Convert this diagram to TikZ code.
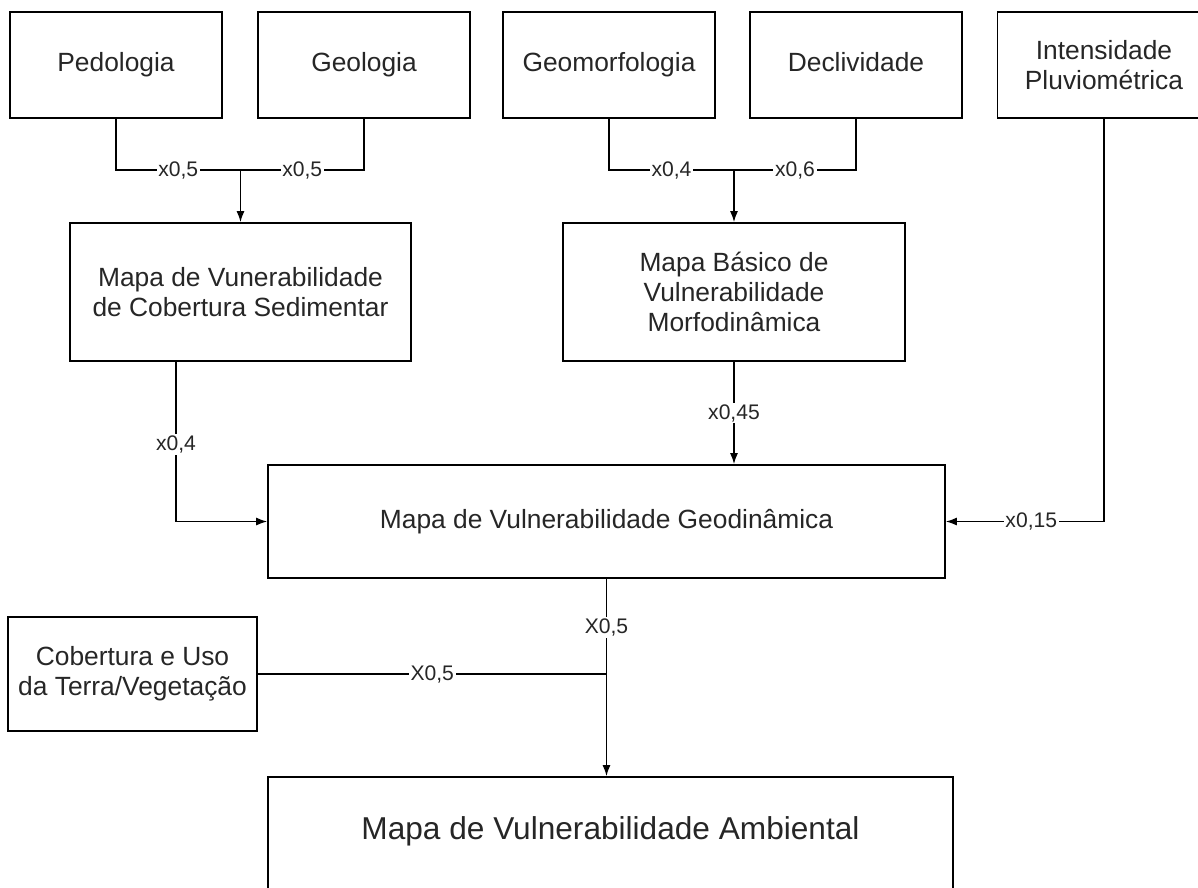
\documentclass[tikz,border=0pt]{standalone}
\usepackage{fontspec}
\setmainfont{Liberation Sans}
\usetikzlibrary{arrows.meta, positioning}

\begin{document}
\begin{tikzpicture}[x=0.02cm, y=-0.02cm,
    box/.style={rectangle, draw, line width=1.1pt, align=center, inner sep=0pt,
        font=\fontsize{15}{17}\selectfont, text=black!85},
    oneline/.style={box, text height=0.95em, text depth=0.2em},
    wt/.style={fill=white, inner sep=1pt, font=\fontsize{12}{14}\selectfont, text=black!85},
    link/.style={line width=0.7pt},
    arr/.style={link, -{Latex[length=2.2mm, width=1.6mm]}}]
    \useasboundingbox (0,0) rectangle (1198,887);
    \clip (0,0) rectangle (1198,887);

    \node (pedo) [oneline, minimum width=4.24cm, minimum height=2.12cm] at (116,65) {Pedologia};
    \node (geo) [oneline, minimum width=4.24cm, minimum height=2.12cm] at (364,65) {Geologia};
    \node (geomorf) [oneline, minimum width=4.24cm, minimum height=2.12cm] at (609,65) {Geomorfologia};
    \node (decliv) [oneline, minimum width=4.24cm, minimum height=2.12cm] at (856,65) {Declividade};
    \node (pluv) [box, minimum width=4.26cm, minimum height=2.12cm] at (1104,65) {Intensidade\\Pluviométrica};

    \node (sed) [box, minimum width=6.82cm, minimum height=2.76cm] at (240.5,292) {Mapa de Vunerabilidade\\de Cobertura Sedimentar};
    \node (basico) [box, minimum width=6.84cm, minimum height=2.76cm] at (734,292) {Mapa Básico de\\Vulnerabilidade\\Morfodinâmica};

    \node (geodin) [oneline, minimum width=13.54cm, minimum height=2.26cm] at (606.5,521.5) {Mapa de Vulnerabilidade Geodinâmica};
    \node (cob) [box, minimum width=4.98cm, minimum height=2.28cm] at (132.5,674) {Cobertura e Uso\\da Terra/Vegetação};
    \node (amb) [oneline, minimum width=13.7cm, minimum height=2.24cm, font=\fontsize{18}{22}\selectfont] at (610.5,833) {Mapa de Vulnerabilidade Ambiental};

    \coordinate (jsed) at (240.5,170);
    \coordinate (jbas) at (734,170);

    \draw[link] (pedo) |- node[wt, pos=0.75] {x0,5} (jsed);
    \draw[link] (geo) |- node[wt, pos=0.75] {x0,5} (jsed);
    \draw[arr] (jsed) -- (sed);

    \draw[link] (geomorf) |- node[wt, pos=0.75] {x0,4} (jbas);
    \draw[link] (decliv) |- node[wt, pos=0.75] {x0,6} (jbas);
    \draw[arr] (jbas) -- (basico);

    \draw[arr] ([xshift=2.14cm]sed.south west) |- node[wt, pos=0.26] {x0,4} (geodin.west);
    \draw[arr] (basico.south) -- node[wt] {x0,45} (basico.south |- geodin.north);
    \draw[arr] (pluv.south) |- node[wt, pos=0.73] {x0,15} (geodin.east);

    \draw[arr] (geodin.south) -- node[wt, pos=0.245] {X0,5} (geodin.south |- amb.north);
    \draw[link] (cob.east) -- node[wt] {X0,5} (cob.east -| geodin.south);
\end{tikzpicture}
\end{document}
